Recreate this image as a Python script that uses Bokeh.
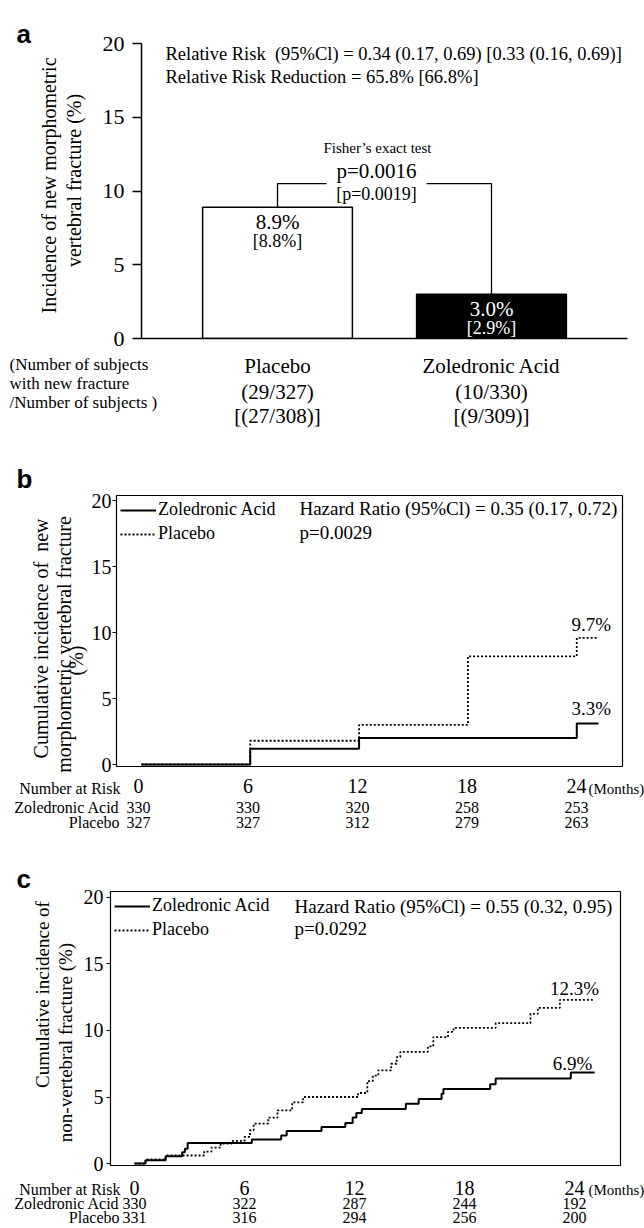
import math
from bokeh.plotting import figure
from bokeh.models import Range1d, Label, Legend, LegendItem, FixedTicker
from bokeh.layouts import column, row
from bokeh.embed import file_html
from bokeh.resources import INLINE

SERIF = "Liberation Serif"
SANS = "Liberation Sans"
PW = 644
NB = "\u00a0"

# ---------------- data ----------------
groups = ["Placebo", "Zoledronic Acid"]
incidence = [8.9, 3.0]
incidence_alt = [8.8, 2.9]
counts = ["(29/327)", "(10/330)"]
counts_alt = ["[(27/308)]", "[(9/309)]"]
bar_fill = ["white", "black"]
bar_text = ["black", "white"]
bracket_level = 10.5

yticks = [0, 5, 10, 15, 20]
month_ticks = [0, 6, 12, 18, 24]

b_za_t = [0, 6, 12, 24, 25.2]
b_za_v = [0, 1.2, 2.0, 3.1, 3.1]
b_pl_t = [0, 6, 12, 18, 24, 25.1]
b_pl_v = [0, 1.8, 3.0, 8.2, 9.6, 9.6]
b_risk_za = [330, 330, 320, 258, 253]
b_risk_pl = [327, 327, 312, 279, 263]

c_za_t = [0, 0.6, 1.7, 2.6, 2.75, 2.9, 6.4, 8.0, 8.3, 10.2, 11.5, 11.9, 12.1, 12.4,
          14.8, 15.5, 16.75, 16.85, 19.4, 19.7, 23.8, 25.1]
c_za_v = [0, 0.25, 0.55, 0.85, 1.1, 1.55, 1.8, 2.1, 2.45, 2.75, 3.05, 3.45, 3.8, 4.1,
          4.5, 4.85, 5.25, 5.6, 5.95, 6.4, 6.85, 6.85]
c_pl_t = [0, 0.6, 1.7, 3.8, 4.2, 4.7, 5.3, 6.0, 6.3, 6.5, 7.3, 7.8, 8.6, 9.2, 12.2,
          12.7, 13.0, 13.3, 14.0, 14.3, 14.5, 16.0, 16.3, 17.1, 17.4, 19.7, 21.6, 22.0,
          23.2, 25.0]
c_pl_v = [0, 0.3, 0.6, 0.9, 1.2, 1.5, 1.7, 2.0, 2.5, 3.0, 3.45, 4.0, 4.6, 5.0, 5.3,
          6.2, 6.6, 7.0, 7.5, 8.0, 8.4, 8.8, 9.5, 9.9, 10.2, 10.55, 11.25, 11.7,
          12.3, 12.3]
c_risk_za = [330, 322, 287, 244, 192]
c_risk_pl = [331, 316, 294, 256, 200]


# ---------------- helpers ----------------
class Geo:
    """Frame placement on the page (pixels) and its data ranges."""
    def __init__(self, fl, fr, ft, fb, xr, yr):
        self.fl, self.fr, self.ft, self.fb = fl, fr, ft, fb
        self.xr, self.yr = xr, yr

    def X(self, px):
        return self.xr[0] + (px - self.fl) / (self.fr - self.fl) * (self.xr[1] - self.xr[0])

    def Y(self, py):
        return self.yr[1] - (py - self.ft) / (self.fb - self.ft) * (self.yr[1] - self.yr[0])

    def dy(self, px):
        return px * (self.yr[1] - self.yr[0]) / (self.fb - self.ft)


def main_fig(g, box):
    x0, y0, w, h = box
    p = figure(width=w, height=h, x_range=Range1d(*g.xr), y_range=Range1d(*g.yr),
               output_backend="svg", toolbar_location=None, title=None,
               min_border_left=g.fl - x0, min_border_right=x0 + w - g.fr,
               min_border_top=g.ft - y0, min_border_bottom=y0 + h - g.fb,
               frame_align=False)
    p.xgrid.visible = False
    p.ygrid.visible = False
    p.background_fill_color = "white"
    p.border_fill_color = "white"
    return p


def text_fig(g, box):
    x0, y0, w, h = box
    p = figure(width=w, height=h, x_range=Range1d(g.X(x0), g.X(x0 + w)),
               y_range=Range1d(y0 + h, y0), output_backend="svg",
               toolbar_location=None, title=None, min_border=0,
               x_axis_type=None, y_axis_type=None, frame_align=False)
    p.outline_line_color = None
    p.background_fill_color = "white"
    p.border_fill_color = "white"
    return p


def label(p, x, y, text, size, align="left", color="black", font=SERIF,
          style="normal", angle=0.0, baseline="middle"):
    p.add_layout(Label(x=x, y=y, text=text, text_font=font, text_font_size=f"{size}px",
                       text_font_style=style, text_align=align, text_baseline=baseline,
                       text_color=color, angle=angle))


def style_yaxis(ax, size, tick_out, standoff, width=1.0):
    ax.ticker = FixedTicker(ticks=yticks)
    ax.major_tick_out = tick_out
    ax.major_tick_in = 0
    ax.minor_tick_line_color = None
    ax.axis_line_width = width
    ax.major_tick_line_width = width
    ax.axis_line_color = "black"
    ax.major_tick_line_color = "black"
    ax.major_label_text_font = SERIF
    ax.major_label_text_font_size = f"{size}px"
    ax.major_label_text_color = "black"
    ax.major_label_standoff = standoff


def bare_xaxis(ax, line_width, show_line):
    ax.ticker = FixedTicker(ticks=[])
    ax.axis_line_width = line_width
    ax.axis_line_color = "black" if show_line else None
    ax.major_tick_line_color = None
    ax.minor_tick_line_color = None


# ---------------- panel a ----------------
GA = Geo(141, 627, 43, 338, (-0.6355, 1.6355), (0, 20))
pa = main_fig(GA, (90, 0, 554, 350))
pa.outline_line_color = None
xpos = list(range(len(groups)))
pa.vbar(x=xpos, top=incidence, bottom=0, width=0.70, fill_color=bar_fill,
        line_color="black", line_width=1.5)
gap_l, gap_r = GA.X(326), GA.X(426)
pa.multi_line(xs=[[xpos[0], xpos[0], gap_l], [gap_r, xpos[1], xpos[1]]],
              ys=[[incidence[0], bracket_level, bracket_level],
                  [bracket_level, bracket_level, incidence[1]]],
              line_color="black", line_width=1.3)
style_yaxis(pa.yaxis[0], 22, 9, 8, 1.5)
bare_xaxis(pa.xaxis[0], 1.5, True)

label(pa, GA.X(165), GA.Y(53), f"Relative Risk {NB}(95%Cl) = 0.34 (0.17, 0.69) [0.33 (0.16, 0.69)]", 18.5)
label(pa, GA.X(165), GA.Y(76), "Relative Risk Reduction = 65.8% [66.8%]", 18.5)
label(pa, GA.X(377), GA.Y(147), "Fisher\u2019s exact test", 15, align="center")
label(pa, GA.X(376), GA.Y(170), "p=0.0016", 21, align="center")
label(pa, GA.X(376), GA.Y(193), "[p=0.0019]", 18, align="center")
for i in xpos:
    label(pa, xpos[i], incidence[i] - GA.dy(15), f"{incidence[i]:.1f}%", 21,
          align="center", color=bar_text[i])
    label(pa, xpos[i], incidence[i] - GA.dy(34), f"[{incidence_alt[i]:.1f}%]", 18,
          align="center", color=bar_text[i])

la = text_fig(GA, (0, 0, 90, 350))
label(la, GA.X(16), 33, "a", 26, font=SANS, style="bold", baseline="alphabetic")
label(la, GA.X(48), 185, "Incidence of new morphometric", 20, align="center", angle=math.pi / 2)
label(la, GA.X(73), 180, "vertebral fracture (%)", 20, align="center", angle=math.pi / 2)

ba = text_fig(GA, (0, 350, 644, 90))
for i in xpos:
    label(ba, xpos[i], 365, groups[i], 21, align="center")
    label(ba, xpos[i], 391, counts[i], 21, align="center")
    label(ba, xpos[i], 415, counts_alt[i], 21, align="center")
label(ba, GA.X(9), 364, "(Number of subjects", 17)
label(ba, GA.X(9), 383, "with new fracture", 17)
label(ba, GA.X(9), 402, "/Number of subjects )", 17)


# ---------------- KM panels ----------------
def km_panel(g, top, left_w, h_main, h_bottom, za_t, za_v, pl_t, pl_v, risk_za, risk_pl,
             letter, letter_y, hr, pv, hr_x, leg_y, tick_y, nar_y, row_y, lab_pl, lab_za,
             titles, y_standoff):
    pm = main_fig(g, (left_w, top, PW - left_w, h_main))
    pm.outline_line_color = "black"
    pm.outline_line_width = 1.2
    r_pl = pm.step(pl_t, pl_v, mode="after", line_color="black", line_width=1.8, line_dash="2 2")
    r_za = pm.step(za_t, za_v, mode="after", line_color="black", line_width=2)
    leg = Legend(items=[LegendItem(label="Zoledronic Acid", renderers=[r_za]),
                        LegendItem(label="Placebo", renderers=[r_pl])],
                 location="top_left", margin=4, padding=4, spacing=3,
                 glyph_width=36, glyph_height=20, label_height=20, label_standoff=2,
                 label_text_font=SERIF, label_text_font_size="18px",
                 label_text_color="black",
                 border_line_color=None, background_fill_alpha=0)
    pm.add_layout(leg)
    style_yaxis(pm.yaxis[0], 20, 4, y_standoff, 1.0)
    bare_xaxis(pm.xaxis[0], 1.0, False)

    label(pm, g.X(hr_x), g.Y(leg_y[0]), hr, 19)
    label(pm, g.X(hr_x), g.Y(leg_y[1]), pv, 19)
    label(pm, pl_t[-1] + lab_pl[0], pl_v[-1] + g.dy(lab_pl[1]), lab_pl[2], 19, align="center")
    label(pm, za_t[-1] + lab_za[0], za_v[-1] + g.dy(lab_za[1]), lab_za[2], 19, align="center")

    pl = text_fig(g, (0, top, left_w, h_main))
    label(pl, g.X(16), letter_y, letter, 26, font=SANS, style="bold", baseline="alphabetic")
    for (tx, ty, txt, sz) in titles:
        label(pl, g.X(tx), ty, txt, sz, align="center", angle=math.pi / 2)

    pb_ = text_fig(g, (0, top + h_main, PW, h_bottom))
    for m in month_ticks:
        label(pb_, m, tick_y, str(m), 20, align="center")
    label(pb_, g.X(588), nar_y, "(Months)", 15)
    label(pb_, g.X(120), nar_y, "Number at Risk", 16, align="right")
    label(pb_, g.X(119), row_y[0], "Zoledronic Acid", 16, align="right")
    label(pb_, g.X(119), row_y[1], "Placebo", 16, align="right")
    for i, m in enumerate(month_ticks):
        label(pb_, m, row_y[0], str(risk_za[i]), 16, align="center")
        label(pb_, m, row_y[1], str(risk_pl[i]), 16, align="center")
    return column(row(pl, pm), pb_)


GB = Geo(113, 622, 495, 766, (-1.37, 26.52), (-0.15, 20.38))
panel_b = km_panel(GB, 440, 88, 336, 64, b_za_t, b_za_v, b_pl_t, b_pl_v, b_risk_za, b_risk_pl,
                   "b", 478, "Hazard Ratio (95%Cl) = 0.35 (0.17, 0.72)", "p=0.0029", 297,
                   (508, 532), 785, 788, (807, 822), (-0.3, 13, "9.7%"), (-0.4, 15, "3.3%"),
                   [(40, 638, f"Cumulative incidence of {NB}new", 20),
                    (63, 644, "morphometric vertebral fracture", 20),
                    (75, 660, "(%)", 20)], 1)

GC = Geo(110, 620, 891, 1165, (-1.31, 26.51), (-0.15, 20.45))
panel_c = km_panel(GC, 840, 80, 335, 53, c_za_t, c_za_v, c_pl_t, c_pl_v, c_risk_za, c_risk_pl,
                   "c", 878, "Hazard Ratio (95%Cl) = 0.55 (0.32, 0.95)", "p=0.0292", 294,
                   (906, 928), 1187, 1189, (1203, 1217), (-1.0, 11, "12.3%"), (-1.2, 9, "6.9%"),
                   [(42, 994, "Cumulative incidence of", 19),
                    (65, 1042, "non-vertebral fracture (%)", 19)], 3)

layout = column(row(la, pa), ba, panel_b, panel_c)
open("out.html", "w").write(file_html(layout, INLINE))
